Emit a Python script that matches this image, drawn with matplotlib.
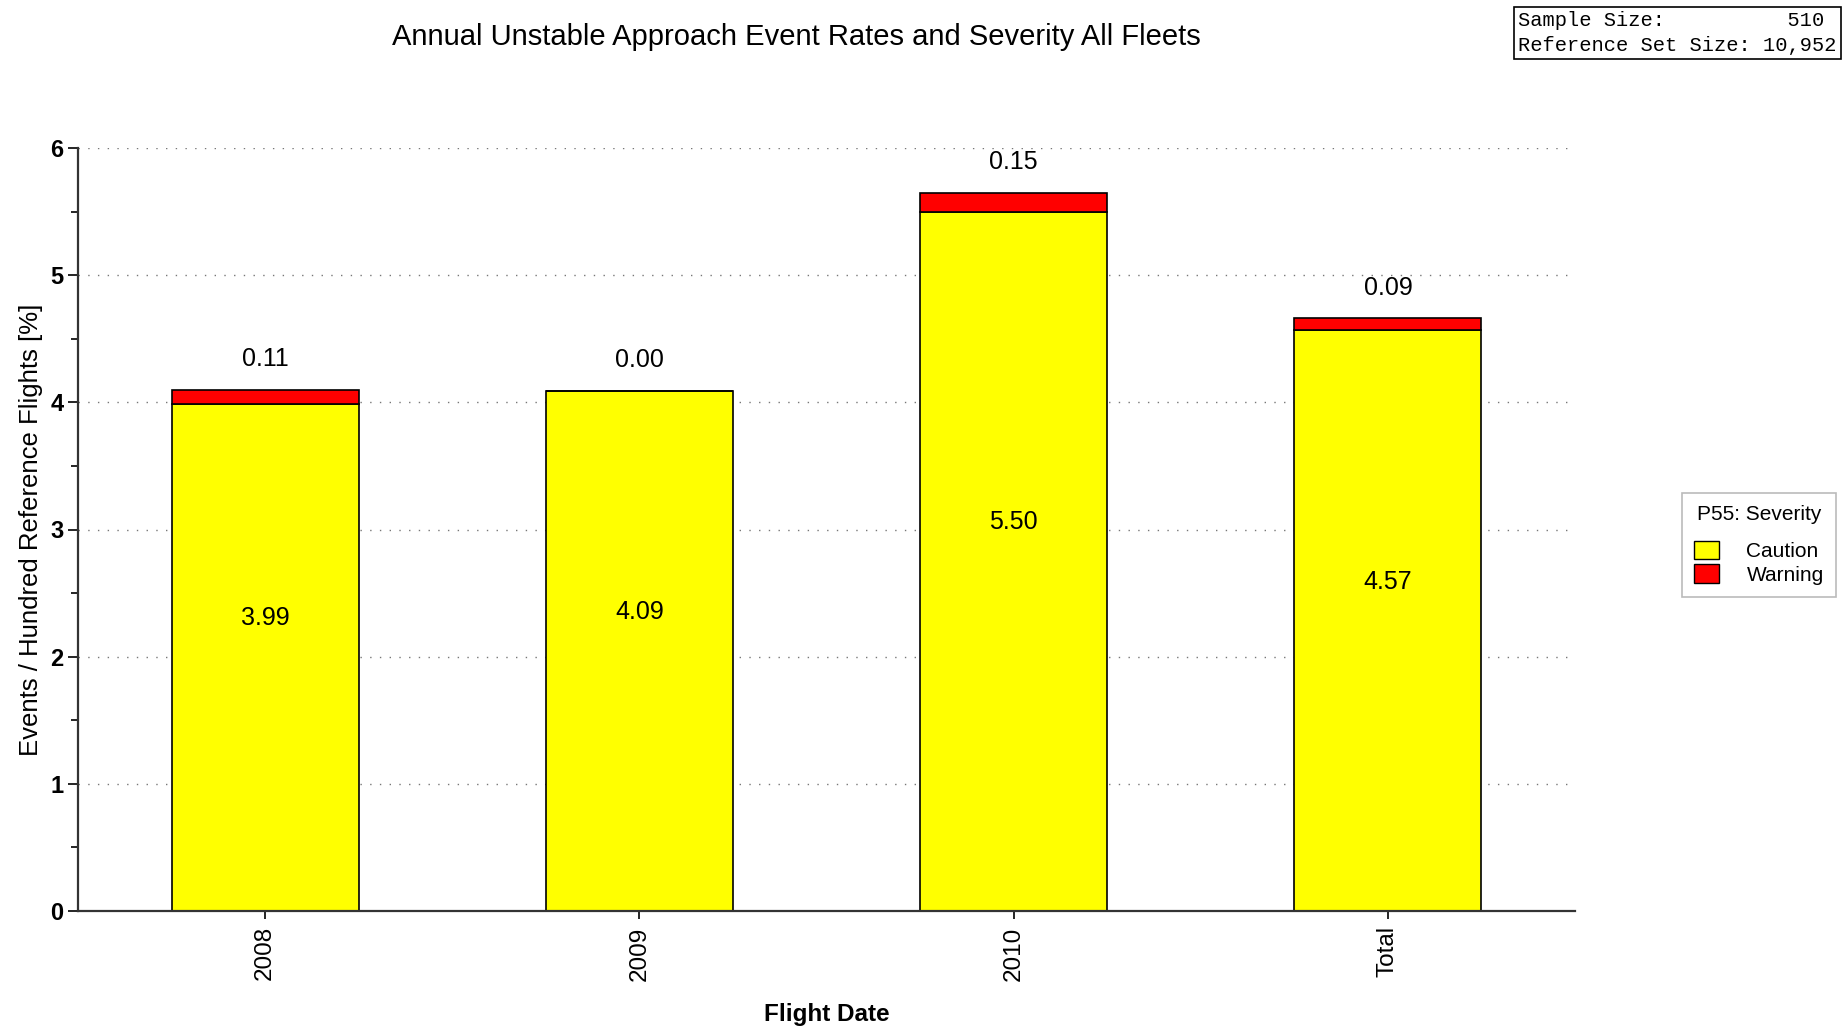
import numpy as np
import matplotlib.pyplot as plt
from matplotlib.patches import Patch
from matplotlib.ticker import MultipleLocator

plt.rcParams['font.family'] = ['Liberation Sans', 'DejaVu Sans']

# data
categories = ['2008', '2009', '2010', 'Total']
caution = [3.99, 4.09, 5.50, 4.57]
warning = [0.11, 0.00, 0.15, 0.09]

W, H, DPI = 1846, 1028, 100
fig = plt.figure(figsize=(W / DPI, H / DPI), dpi=DPI, facecolor='white')
ax = fig.add_axes([78 / W, 1 - 911 / H, (1575 - 78) / W, (911 - 148) / H])

x = np.arange(len(categories))
ax.bar(x, caution, width=0.5, color='#ffff00', edgecolor='black', lw=1.2, zorder=2)
ax.bar(x, warning, width=0.5, bottom=caution, color='#ff0000', edgecolor='black', lw=1.2, zorder=2)

# value labels
for xi, c, w in zip(x, caution, warning):
    ax.annotate('%.2f' % c, xy=(xi, c / 2), xytext=(0, 28), textcoords='offset points',
                ha='center', va='center', fontsize=18)
    ax.annotate('%.2f' % w, xy=(xi, c + w), xytext=(0, 22), textcoords='offset points',
                ha='center', va='center', fontsize=18)

ax.set_xlim(-0.5, 3.5)
ax.set_ylim(0, 6)
ax.set_xticks(x)
ax.set_xticklabels(categories, rotation=90, fontsize=17.5)
ax.yaxis.set_major_locator(MultipleLocator(1))
ax.yaxis.set_minor_locator(MultipleLocator(0.5))
ax.tick_params(axis='y', which='major', length=7, labelsize=17, width=1.2)
ax.tick_params(axis='y', which='minor', length=5, width=1.2)
ax.tick_params(axis='x', length=6, width=1.2, pad=5)
for t in ax.get_yticklabels():
    t.set_fontweight('bold')

ax.grid(axis='y', linestyle=(0, (1, 6)), color='#777777', lw=1, zorder=0)
ax.spines['top'].set_visible(False)
ax.spines['right'].set_visible(False)
for s in ['left', 'bottom']:
    ax.spines[s].set_color('#333333')
    ax.spines[s].set_linewidth(1.6)

ax.set_ylabel('Events / Hundred Reference Flights [%]', fontsize=18.5, labelpad=5)
ax.set_xlabel('Flight Date', fontsize=17.5, fontweight='bold', labelpad=16)
fig.text(796 / W, 1 - 37 / H, 'Annual Unstable Approach Event Rates and Severity All Fleets',
         ha='center', va='center', fontsize=21)

# sample size box
fig.text(1518 / W, 1 - 33 / H, 'Sample Size:          510\nReference Set Size: 10,952',
         ha='left', va='center', fontsize=14.7, family='Liberation Mono', linespacing=1.4,
         bbox=dict(boxstyle='square,pad=0.2', fc='white', ec='black', lw=1.2))

handles = [Patch(fc='#ffff00', ec='black', label='Caution'),
           Patch(fc='#ff0000', ec='black', label='Warning')]
leg = fig.legend(handles=handles, title='P55: Severity', loc='center',
                 bbox_to_anchor=(1759 / W, 1 - 545 / H), fontsize=15, title_fontsize=15,
                 frameon=True, fancybox=False, edgecolor='#aaaaaa', handlelength=1.2,
                 handleheight=1.0, handletextpad=1.3, labelspacing=0.15, borderpad=0.6)
leg.get_frame().set_linewidth(1.2)
leg._legend_box.sep = 12

fig.savefig('out.png', dpi=DPI, facecolor='white')
